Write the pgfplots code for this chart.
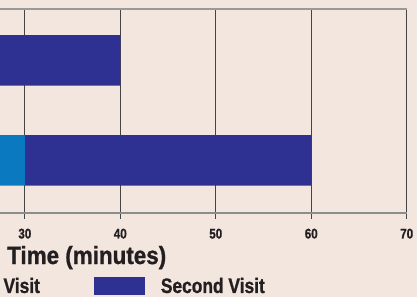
\documentclass[border=0pt]{standalone}
\usepackage{pgfplots}
\pgfplotsset{compat=1.18}
\usepackage{fontspec}
\setmainfont{Liberation Sans}
\newfontfamily\cb{Liberation Sans Bold}[FakeStretch=0.83, FakeBold=1]
\newfontfamily\cbw{Liberation Sans Bold}[FakeStretch=0.9, FakeBold=1]
\definecolor{bgc}{HTML}{F3E6DF}
\definecolor{firstc}{HTML}{0B79BF}
\definecolor{secondc}{HTML}{2E3192}
\definecolor{gridc}{HTML}{444444}
\definecolor{txt}{HTML}{231F20}
\begin{document}
\begin{tikzpicture}[x=1bp,y=1bp]
\useasboundingbox (0,0) rectangle (417,297);
\fill[bgc] (0,0) rectangle (417,297);
\clip (0,0) rectangle (417,297);
\begin{axis}[
 at={(0,84.3)}, anchor=south west,
 scale only axis, width=406.7bp, height=203.2bp,
 clip=false,
 xbar stacked, bar width=0.507,
 xmin=27.4, xmax=70, ymin=-0.523, ymax=1.509,
 xtick={30,40,50,60,70}, ytick=\empty,
 axis x line=box, axis y line=none,
 x axis line style={draw=none},
 xtick pos=left,
 tick align=outside, major tick length=6bp,
 tick style={draw=gridc, line width=1.2bp},
 xmajorgrids, grid style={draw=gridc, line width=1.2bp},
 ticklabel style={font=\cb\fontsize{14}{14}\selectfont, text=txt},
 /pgf/number format/assume math mode=true,
 xticklabel style={yshift=-6.5bp},
 xlabel={Time (minutes)},
 xlabel style={at={(rel axis cs:0.0172,-0.2525)}, anchor=base west, inner sep=0pt, font=\cbw\fontsize{25}{25}\selectfont, text=txt},
 legend columns=2,
 legend cell align=left,
 legend style={draw=none, fill=none, inner sep=0pt, at={(rel axis cs:0.6516,-0.405)}, anchor=south east,
   font=\cb\fontsize{21}{21}\selectfont, text=txt, nodes={inner sep=0pt},
   /tikz/every odd column/.style={column sep=16bp},
   /tikz/every even column/.style={column sep=54bp}},
 legend image code/.code={\fill[#1] (0bp,-8.65bp) rectangle (51bp,8.65bp);},
]
\addplot[fill=firstc, draw=none] coordinates {(30,0) (20,1)};
\addplot[fill=secondc, draw=none] coordinates {(30,0) (20,1)};
\legend{First Visit, Second Visit}
\draw[draw=black!45, line width=2bp] (rel axis cs:-0.1,0) -- (rel axis cs:1,0);
\draw[draw=black!40, line width=2bp] (rel axis cs:-0.1,1) -- (rel axis cs:1,1);
\end{axis}
\end{tikzpicture}
\end{document}
